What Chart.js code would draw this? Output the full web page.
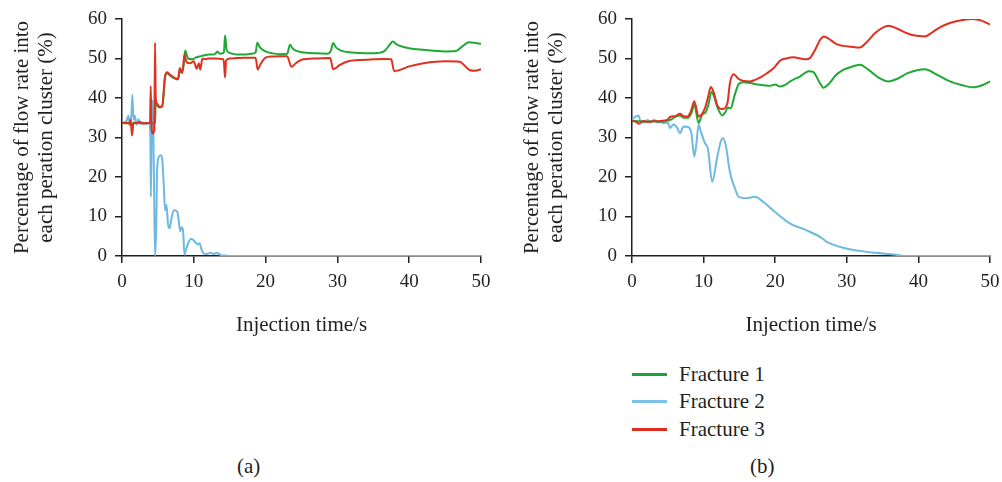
<!DOCTYPE html>
<html><head><meta charset="utf-8">
<script src="https://cdn.jsdelivr.net/npm/chart.js@4.4.0/dist/chart.umd.min.js"></script>
<style>
html,body{margin:0;padding:0;background:#fff;width:1002px;height:482px;overflow:hidden;position:relative;}
canvas{position:absolute;top:0;}
#ca{left:0;}
#cb{left:510px;}
.txt{position:absolute;font-family:'Liberation Serif','Times New Roman',serif;font-size:21px;color:#231f20;white-space:nowrap;line-height:21px;}
.sw{position:absolute;height:3px;width:35px;}
</style>
</head><body>
<canvas id="ca" width="500" height="350"></canvas>
<canvas id="cb" width="492" height="350"></canvas>
<div id="legend"></div>
<div class="txt" style="left:237px;top:456px;">(a)</div>
<div class="txt" style="left:750px;top:456px;">(b)</div>
<script>
// ---------- data ----------
const seriesLabels = ['Fracture 1', 'Fracture 2', 'Fracture 3'];
const seriesColors = ['#1fa834', '#6db9e2', '#e0301f'];
const legendColors = ['#1ba33a', '#7dc2e8', '#dd2c1e'];
const xTicks = [0, 10, 20, 30, 40, 50];
const yTicks = [0, 10, 20, 30, 40, 50, 60];

// (a) Fracture 1
const aT1 = [0,0.5,1,1.4,1.6,2,2.5,3,3.5,4.0,4.3,4.6,4.7,4.9,5.2,5.6,6.0,6.3,6.6,7,7.4,7.8,8.1,8.3,8.6,8.8,9.2,9.8,10.3,11,11.5,12,12.5,13,13.3,13.6,14,14.2,14.35,14.6,15.2,16,17,18,18.6,18.85,19.2,20,21,22,23,23.4,23.7,24.2,25,27,28.6,29.1,29.4,29.8,30.5,32,34,35.6,36.5,37.3,37.7,38.3,40,42,45,46.5,47.5,48.3,49,50];
const aV1 = [33.7,33.6,33.7,33.5,33.6,33.7,33.6,33.7,33.6,33.8,33.5,33.8,39,38.2,37.6,37.8,45.3,46.3,45.8,45.3,44.9,44.7,47.3,46.4,48.4,52,50,49.8,50.3,50.6,50.8,51,51,51.2,51.8,51.2,51.3,51.6,55.8,52,51.3,51,51,51.2,51.5,54,52.8,51.8,51.3,51.1,51.2,53.5,52.7,52,51.6,51.3,51.2,52,53.9,52.8,52,51.5,51.3,51.4,51.8,53.5,54.3,53.5,52.6,52.2,51.8,51.9,53.2,54.1,54.0,53.7];
// (a) Fracture 2
const aT2 = [0,0.5,0.9,1.1,1.3,1.45,1.6,1.8,2.0,2.3,2.6,3.0,3.4,3.8,3.95,4.02,4.12,4.28,4.45,4.6,4.75,4.9,5.1,5.4,5.6,5.8,6.0,6.2,6.4,6.6,6.8,7.0,7.3,7.7,7.9,8.1,8.3,8.5,8.7,8.9,9.2,9.6,9.9,10.2,10.5,10.8,11.1,11.4,11.8,12.3,12.8,13.2,13.7,14.2,15,20,30,40,50];
const aV2 = [33.8,33.6,35.5,33,35.5,40.8,34.5,35.5,33.2,34.6,33.5,33.8,33.4,33.6,30,15,30,39.5,20,0,6,22,25,25.5,24.5,18.5,11.5,13,8.2,7,8.5,10.5,11.6,11.2,9,6.3,7.3,6.5,0.3,1.5,3.2,4.3,4.1,3.5,3.0,3.2,1.5,0.6,0.5,0.8,0.5,0.8,0.3,0.1,0,0,0,0,0];
// (a) Fracture 3
const aT3 = [0,0.5,1.0,1.2,1.4,1.6,2.0,2.5,3.0,3.5,3.9,4.0,4.1,4.3,4.5,4.6,4.7,4.9,5.2,5.6,6.0,6.3,6.6,7.0,7.4,7.8,8.05,8.4,8.7,9.0,9.5,10.0,10.4,10.7,10.9,11.2,11.6,12,13,14,14.2,14.35,14.5,15,16,17,18,18.6,18.9,19.3,20,21,22,23,23.6,24.2,25,27,29,29.4,29.7,30.3,31.5,33,35,36.5,37.5,37.9,38.5,40,42,45,47,48.4,49.2,50];
const aV3 = [33.7,33.8,33.5,34.5,30.5,33.8,33.6,33.9,33.5,33.7,33.7,43,33,31,32,54,40,38.5,37.8,38,45.5,46.5,46,45.5,45,44.8,47.6,46.4,51,49,48.8,49.3,47.4,48.8,47.2,50,49.8,50,50,49.9,49,45.2,49.5,50,50.1,50.2,50.2,50.2,47.2,48.6,50.2,50.5,50.6,50.6,47.9,48.8,49.7,50,50.1,47.3,47.5,48.3,49.3,49.6,49.8,49.9,49.8,46.8,47.0,48.0,48.8,49.3,49.2,47.1,46.9,47.3];

// (b) Fracture 1
const bT1 = [0,0.5,1,2,3,4,5,5.5,6,6.7,7.2,7.8,8.3,8.7,9.3,9.8,10.3,10.7,11.1,11.5,11.9,12.6,13.0,13.4,13.8,14.3,14.9,15.5,16.5,17.5,18.5,19.3,20,20.7,21.4,22.1,23.5,24.7,25.3,26.3,26.7,27.5,28.5,29.5,30.5,31.8,33,34.5,35.8,37,38.5,40.9,42.5,44.4,46,47.6,49,50];
const bV1 = [34.0,34.2,34.1,34.0,34.1,34.0,34.3,34.6,35.2,35.6,35,35.0,36.2,38.3,33.7,35.8,36.4,38.5,41.5,40.2,37.8,35.6,36.3,37.6,37.4,40.5,43.5,44,43.8,43.4,43.2,43.1,43.4,42.9,43.3,44.2,45.5,46.8,46.6,43.6,42.6,43.6,45.8,47.1,47.8,48.4,47.2,45.1,44.2,44.8,46.3,47.3,46,44.2,43.3,42.7,43.3,44.2];
// (b) Fracture 2
const bT2 = [0,0.4,0.9,1.2,1.6,2.2,2.6,3.1,3.5,4,4.4,5.0,5.3,5.8,6.3,6.7,7.2,7.9,8.3,8.7,9.0,9.3,9.7,10.2,10.6,11.2,11.9,12.4,12.7,13.1,13.7,14.3,14.9,16,17.2,18.4,20.2,22.1,24.4,26.3,27.2,29.5,31.8,34.1,36.8,38,50];
const bV2 = [34.5,35.2,35.6,34,33.8,34.4,33.8,34.5,33.8,34,33.6,33.8,32.4,33.3,32.5,31.1,32.8,32.6,31,25.2,28.6,33.2,31,28.5,27.2,18.8,25,29,29.8,28,21,17.5,15,14.6,15,13.6,10.8,8.2,6.5,4.8,3.6,2.1,1.3,0.8,0.3,0,0];
// (b) Fracture 3
const bT3 = [0,0.5,1.0,1.5,2,3,4,5,5.3,6,6.7,7.2,7.7,8.2,8.7,9.3,9.8,10.2,10.6,11,11.4,11.9,12.6,13.3,13.7,14.2,14.9,15.6,16.5,17.2,18,18.8,19.8,20.7,21.5,22.6,23.5,24.3,24.9,25.6,26.3,26.8,27.5,28.5,29.5,30.5,31.8,32.7,34,35.8,37,38.4,39.5,40.9,42,43,44.4,46,47.6,48.8,50];
const bV3 = [34.3,34.0,33.5,34.2,34.0,34.1,34.2,34.5,35.2,35.4,36.0,35.4,35.3,36.5,39.2,35.3,36,37.5,40,42.8,41.5,38.2,37.2,38.5,44,46,44.8,44.3,44.2,44.6,45.3,46.2,47.6,49.5,50,50.3,50,49.8,50.2,52.3,54.8,55.6,55,53.7,53.2,53,52.8,54,56.5,58.3,57.6,56.4,55.8,55.6,56.7,57.9,59,59.7,60,59.6,58.6];

// ---------- chart building ----------
const FONT = "'Liberation Serif', 'Times New Roman', serif";
const INK = '#231f20';
const drawOrder = [1, 2, 0];

function pts(t, v) { return t.map((x, i) => ({ x: x, y: v[i] })); }

function makeChart(id, series, padRight) {
  const datasets = series.map((s, i) => ({
    label: seriesLabels[i],
    data: pts(s[0], s[1]),
    borderColor: seriesColors[i],
    backgroundColor: seriesColors[i],
    borderWidth: 2,
    pointRadius: 0,
    fill: false,
    cubicInterpolationMode: 'monotone',
    order: drawOrder[i]
  }));
  return new Chart(document.getElementById(id), {
    type: 'line',
    data: { datasets },
    options: {
      responsive: false,
      animation: false,
      events: [],
      layout: { padding: { left: 0, right: padRight, top: 19, bottom: 0 } },
      plugins: { legend: { display: false }, tooltip: { enabled: false } },
      scales: {
        x: {
          type: 'linear', min: xTicks[0], max: xTicks[xTicks.length - 1],
          afterBuildTicks: (s) => { s.ticks = xTicks.map(v => ({ value: v })); },
          ticks: { color: INK, font: { family: FONT, size: 19 }, padding: 8, maxRotation: 0 },
          grid: { drawOnChartArea: false, drawTicks: true, tickLength: 7, color: INK, lineWidth: 1.5 },
          border: { display: true, color: INK, width: 1.5 },
          title: { display: true, text: 'Injection time/s', color: INK,
                   font: { family: FONT, size: 21, lineHeight: 1.2 }, padding: { top: 0, bottom: 12 } },
          afterFit: (s) => { s.height = 94; s.paddingLeft = 0; s.paddingRight = 0; }
        },
        y: {
          type: 'linear', min: yTicks[0], max: yTicks[yTicks.length - 1],
          afterBuildTicks: (s) => { s.ticks = yTicks.map(v => ({ value: v })); },
          ticks: { color: INK, font: { family: FONT, size: 19 }, padding: 8 },
          grid: { drawOnChartArea: false, drawTicks: true, tickLength: 7, color: INK, lineWidth: 1.5 },
          border: { display: true, color: INK, width: 1.5 },
          title: { display: true, text: ['Percentage of flow rate into', 'each peration cluster (%)'], color: INK,
                   font: { family: FONT, size: 21, lineHeight: 1.15 }, padding: { top: 10, bottom: 0 } },
          afterFit: (s) => { s.width = 122; s.paddingTop = 0; s.paddingBottom = 0; }
        }
      }
    }
  });
}

makeChart('ca', [[aT1, aV1], [aT2, aV2], [aT3, aV3]], 19);
makeChart('cb', [[bT1, bV1], [bT2, bV2], [bT3, bV3]], 12);

// legend
const lg = document.getElementById('legend');
seriesLabels.forEach((lab, i) => {
  const cy = 374 + i * 27.5;
  const sw = document.createElement('div');
  sw.className = 'sw';
  sw.style.left = '632px';
  sw.style.top = (cy - 1.5) + 'px';
  sw.style.background = legendColors[i];
  lg.appendChild(sw);
  const tx = document.createElement('div');
  tx.className = 'txt';
  tx.style.left = '679px';
  tx.style.top = (cy - 10.5) + 'px';
  tx.textContent = lab;
  lg.appendChild(tx);
});
</script>
</body></html>
